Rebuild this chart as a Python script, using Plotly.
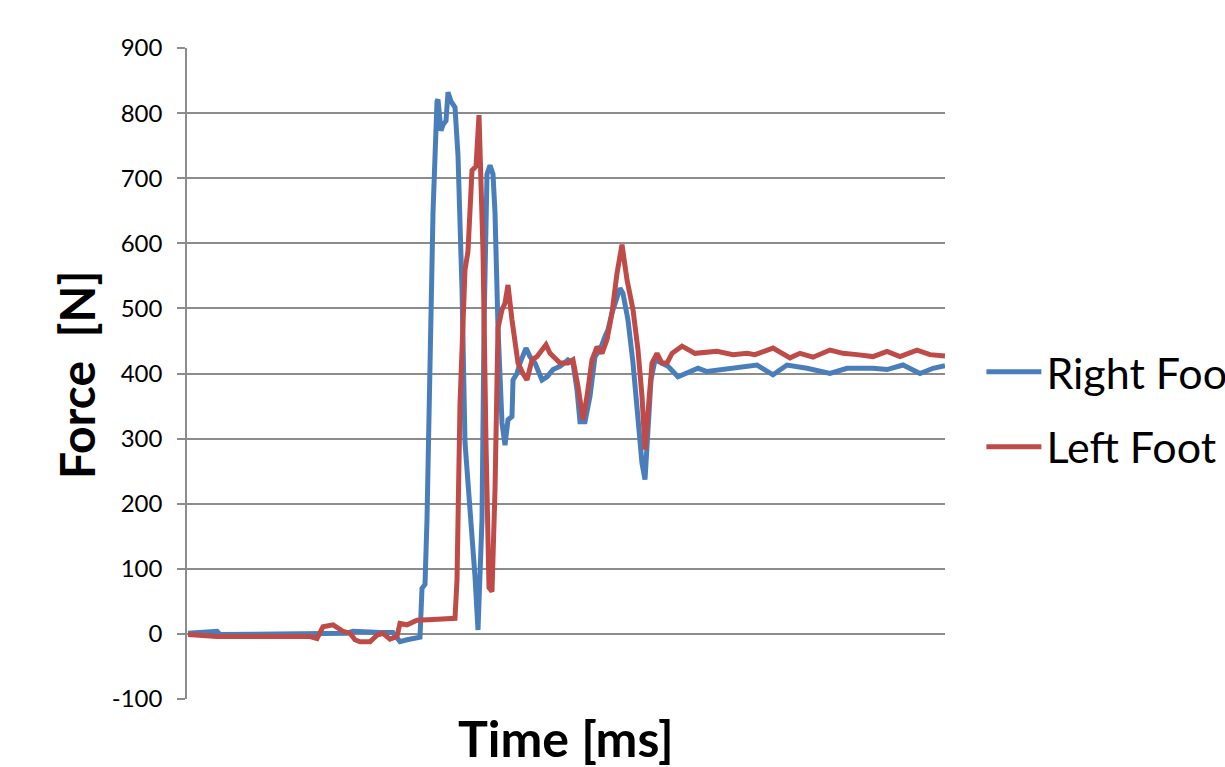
import plotly.graph_objects as go

# Right foot (blue) samples: time [ms], force [N]
right_t = [2, 60, 66, 252, 320, 332, 360, 386, 412, 426, 440, 466, 470, 476, 480, 492, 500, 502,
           508, 512, 518, 522, 528, 536, 542, 550, 556, 562, 570, 576, 582, 590, 594, 600, 606,
           612, 616, 622, 630, 636, 642, 650, 652, 660, 666, 678, 686, 696, 710, 720, 732, 746,
           762, 772, 780, 786, 796, 806, 816, 826, 836, 842, 850, 860, 866, 872, 882, 892, 902,
           910, 916, 922, 928, 936, 952, 962, 982, 1006, 1022, 1040, 1072, 1106, 1140, 1172,
           1200, 1240, 1286, 1320, 1372, 1400, 1432, 1466, 1492, 1516]
right_f = [1, 4, -1, 1, 1, 4, 2, 2, 2, -12, -9, -5, 70, 76, 176, 647, 818, 821,
           773, 782, 788, 832, 818, 809, 735, 529, 294, 235, 165, 88, 6, 176, 470, 706, 720,
           706, 647, 470, 324, 290, 329, 334, 390, 400, 416, 439, 426, 416, 390, 395, 406, 411,
           421, 416, 375, 326, 326, 365, 426, 436, 457, 467, 493, 518, 531, 523, 482, 416, 334,
           262, 237, 303, 390, 421, 416, 411, 395, 403, 408, 403, 406, 408, 413, 398,
           413, 408, 400, 408, 408, 406, 413, 400, 408, 412]

# Left foot (red) samples: time [ms], force [N]
left_t = [2, 60, 246, 260, 272, 292, 312, 326, 336, 346, 366, 380, 392, 406, 420, 426, 440, 460,
          492, 536, 540, 546, 556, 562, 570, 578, 584, 592, 598, 604, 610, 616, 622, 630, 636,
          642, 650, 656, 662, 672, 680, 690, 700, 710, 718, 726, 736, 746, 762, 772, 782, 792,
          800, 810, 820, 830, 840, 850, 860, 870, 880, 892, 902, 910, 916, 922, 930, 940, 950,
          960, 970, 990, 1016, 1060, 1092, 1120, 1136, 1172, 1206, 1226, 1252, 1286, 1312,
          1340, 1372, 1400, 1426, 1460, 1486, 1516]
left_f = [-1, -4, -4, -7, 11, 14, 4, 1, -9, -12, -12, -2, 1, -8, -4, 16, 14, 21,
          22, 24, 83, 353, 559, 588, 712, 718, 797, 588, 294, 71, 65, 221, 470, 498, 508,
          536, 482, 447, 416, 400, 390, 421, 426, 436, 444, 431, 424, 416, 416, 421, 380, 329,
          365, 421, 441, 431, 452, 493, 554, 598, 544, 498, 436, 365, 283, 339, 416, 431, 416,
          416, 431, 442, 431, 434, 429, 431, 429, 439, 424, 431, 425, 436, 431,
          429, 426, 434, 426, 436, 429, 427]

series_names = ["Right Foot", "Left Foot"]
y_ticks = [-100, 0, 100, 200, 300, 400, 500, 600, 700, 800, 900]

BLUE = "#4A7EBB"
RED = "#BE4B48"
GRID = "#8C8C8C"

fig = go.Figure()
fig.add_trace(go.Scatter(x=right_t, y=right_f, mode="lines", name=series_names[0],
                         legendgroup="r", line=dict(color=BLUE, width=5)))
fig.add_trace(go.Scatter(x=left_t, y=left_f, mode="lines", name=series_names[1],
                         legendgroup="l", line=dict(color=RED, width=5)))

fig.update_layout(
    width=1225, height=767,
    margin=dict(l=187, r=280, t=48, b=68, autoexpand=False),
    paper_bgcolor="white", plot_bgcolor="white",
    font=dict(family="Lato", color="black"),
    showlegend=True,
    legend=dict(x=1.048, xanchor="left", y=0.445, yanchor="middle",
                font=dict(family="Lato", size=43, color="black"),
                itemwidth=55, tracegroupgap=16, bgcolor="rgba(0,0,0,0)"),
    xaxis=dict(range=[0, 1516], showticklabels=False, ticks="", showgrid=False,
               zeroline=False, showline=False),
    yaxis=dict(range=[-100, 900], tickvals=y_ticks, ticktext=[str(v) for v in y_ticks],
               ticks="outside", ticklen=8, tickwidth=1.5, tickcolor=GRID,
               showgrid=True, gridcolor=GRID, gridwidth=1.5,
               zeroline=False, showline=True, linecolor=GRID, linewidth=1.5,
               tickfont=dict(family="Lato", size=24, color="black"),
               ticklabelstandoff=10),
    annotations=[
        dict(text="<b>Force\u00a0\u00a0[N]</b>", xref="paper", yref="paper",
             x=(77 - 187) / 758, y=(699 - 375) / 651, textangle=-90,
             showarrow=False, xanchor="center", yanchor="middle",
             font=dict(family="Lato", size=48, color="black")),
        dict(text="<b>Time [ms]</b>", xref="paper", yref="paper",
             x=0.5, y=-(738 - 699) / 651, showarrow=False,
             xanchor="center", yanchor="middle",
             font=dict(family="Lato", size=50, color="black")),
    ],
)

fig.write_html("out.html", config={"displayModeBar": False},
               post_script="document.body.style.margin='0';document.body.style.overflow='hidden';")
